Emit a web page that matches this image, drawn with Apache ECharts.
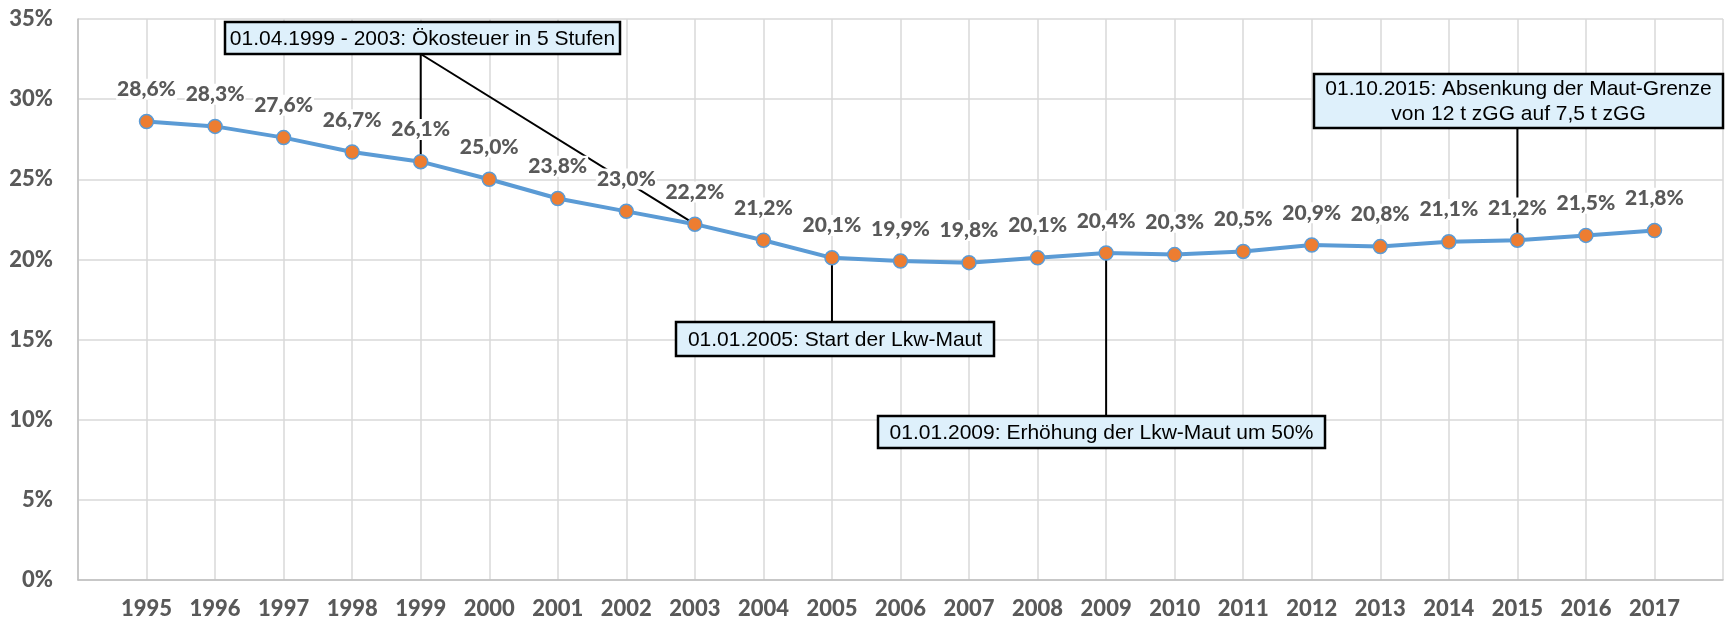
<!DOCTYPE html>
<html>
<head>
<meta charset="utf-8">
<script src="https://cdn.jsdelivr.net/npm/echarts@6/dist/echarts.min.js"></script>
<style>
html,body{margin:0;padding:0;background:#fff;}
#c{width:1729px;height:621px;}
</style>
</head>
<body>
<div id="c"></div>
<script>
const years = [1995,1996,1997,1998,1999,2000,2001,2002,2003,2004,2005,2006,2007,2008,2009,2010,2011,2012,2013,2014,2015,2016,2017];
const shares = [28.6,28.3,27.6,26.7,26.1,25.0,23.8,23.0,22.2,21.2,20.1,19.9,19.8,20.1,20.4,20.3,20.5,20.9,20.8,21.1,21.2,21.5,21.8];
const yTicks = [0,5,10,15,20,25,30,35];
const notes = [
  {year:1999, text:'01.04.1999 - 2003: Ökosteuer in 5 Stufen'},
  {year:2005, text:'01.01.2005: Start der Lkw-Maut'},
  {year:2009, text:'01.01.2009: Erhöhung der Lkw-Maut um 50%'},
  {year:2015, text:'01.10.2015: Absenkung der Maut-Grenze\nvon 12 t zGG auf 7,5 t zGG'}
];
const noteLink2003 = 2003;

const chart = echarts.init(document.getElementById('c'), null, {renderer:'canvas'});
const labelFont = {fontFamily:'Lato', fontWeight:900, fontSize:21, color:'#595959'};
const axisFont = {fontFamily:'Lato', fontWeight:900, fontSize:22, color:'#595959'};

chart.setOption({
  animation:false,
  backgroundColor:'#fff',
  grid:{left:78, right:6, top:19, bottom:41, containLabel:false},
  xAxis:{
    type:'value', min:1994, max:2018, interval:1,
    axisLine:{show:true, lineStyle:{color:'#BFBFBF', width:1.5}},
    axisTick:{show:false},
    splitLine:{show:true, lineStyle:{color:'#D9D9D9', width:1.5}},
    axisLabel:Object.assign({margin:18, showMinLabel:false, showMaxLabel:false,
      formatter:v => (years.indexOf(v) >= 0 ? String(v) : '')}, axisFont)
  },
  yAxis:{
    type:'value', min:yTicks[0], max:yTicks[yTicks.length-1], interval:5,
    axisLine:{show:true, lineStyle:{color:'#BFBFBF', width:1.5}},
    axisTick:{show:false},
    splitLine:{show:true, lineStyle:{color:'#D9D9D9', width:1.5}},
    axisLabel:Object.assign({margin:25, formatter:'{value}%'}, axisFont)
  },
  series:[{
    type:'line',
    data:years.map((y,i)=>[y, shares[i]]),
    z:3,
    lineStyle:{color:'#5B9BD5', width:4},
    symbol:'circle', symbolSize:14,
    itemStyle:{color:'#ED7D31', borderColor:'#5B9BD5', borderWidth:1.5},
    label:Object.assign({
      show:true, position:'top', distance:14,
      backgroundColor:'#fff', padding:[0,1],
      formatter:p => p.value[1].toFixed(1).replace('.', ',') + '%'
    }, labelFont)
  }]
});

function px(year){
  const i = years.indexOf(year);
  return chart.convertToPixel({gridIndex:0}, [year, shares[i]]);
}

const boxes = [
  {x:225, y:22, w:395, h:32},
  {x:676, y:322, w:318, h:34},
  {x:878, y:416, w:447, h:32},
  {x:1314, y:74, w:409, h:54}
];

const graphics = [];
const lineStyle = {stroke:'#000', lineWidth:2};
const p1999 = px(notes[0].year), p2003 = px(noteLink2003), p2005 = px(notes[1].year), p2009 = px(notes[2].year), p2015 = px(notes[3].year);
graphics.push({type:'line', z:1, shape:{x1:p1999[0], y1:boxes[0].y+boxes[0].h, x2:p1999[0], y2:p1999[1]}, style:lineStyle});
graphics.push({type:'line', z:1, shape:{x1:p1999[0], y1:boxes[0].y+boxes[0].h, x2:p2003[0], y2:p2003[1]}, style:lineStyle});
graphics.push({type:'line', z:1, shape:{x1:p2005[0], y1:p2005[1], x2:p2005[0], y2:boxes[1].y}, style:lineStyle});
graphics.push({type:'line', z:1, shape:{x1:p2009[0], y1:p2009[1], x2:p2009[0], y2:boxes[2].y}, style:lineStyle});
graphics.push({type:'line', z:1, shape:{x1:p2015[0], y1:boxes[3].y+boxes[3].h, x2:p2015[0], y2:p2015[1]}, style:lineStyle});

notes.forEach((n, i) => {
  const b = boxes[i];
  graphics.push({type:'rect', z:100, shape:{x:b.x, y:b.y, width:b.w, height:b.h},
    style:{fill:'#DEF0FB', stroke:'#000', lineWidth:2.5}});
  graphics.push({type:'text', z:101, x:b.x + b.w/2, y:b.y + b.h/2 + 1,
    style:{text:n.text, fill:'#000', font:'21px "Liberation Sans", Arial, sans-serif',
      align:'center', verticalAlign:'middle', lineHeight:25}});
});

chart.setOption({graphic:graphics});
</script>
</body>
</html>
